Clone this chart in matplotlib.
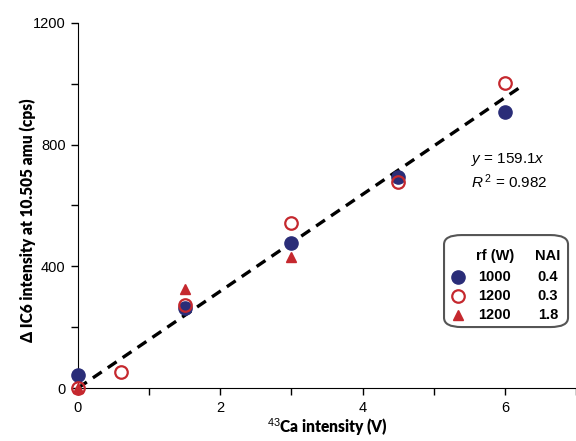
import matplotlib
matplotlib.use("Agg")
import matplotlib.pyplot as plt
from matplotlib.patches import FancyBboxPatch
from matplotlib.ticker import MultipleLocator

# rf = 1000 W, NAI 0.4
x_1000 = [0, 1.5, 3, 4.5, 6]
y_1000 = [43, 263, 477, 694, 908]
# rf = 1200 W, NAI 0.3
x_1200a = [0, 0.6, 1.5, 3, 4.5, 6]
y_1200a = [0, 52, 273, 542, 678, 1003]
# rf = 1200 W, NAI 1.8
x_1200b = [0, 1.5, 3]
y_1200b = [0, 327, 432]

slope = 159.1
r2 = 0.982
fit_x = [0, 6.2]

legend_rf = ["1000", "1200", "1200"]
legend_nai = ["0.4", "0.3", "1.8"]

navy = "#2a2d78"
red = "#c5282e"

plt.rcParams["font.family"] = ["Liberation Sans", "DejaVu Sans"]
plt.rcParams["mathtext.fontset"] = "custom"
plt.rcParams["mathtext.rm"] = "Liberation Sans"
plt.rcParams["mathtext.it"] = "Liberation Sans:italic"

fig = plt.figure(figsize=(5.76, 4.41), dpi=100)
ax = fig.add_axes([78 / 576, 1 - 388 / 441, 1 - 78 / 576, (388 - 23) / 441])

ax.plot(fit_x, [slope * v for v in fit_x], color="black", lw=2.4,
        dashes=(3.2, 2.2), zorder=2)
styles = [
    dict(marker="o", ms=9.5, color=navy, mec=navy),
    dict(marker="o", ms=9, mfc="none", mec=red, mew=1.6),
    dict(marker="^", ms=7.5, color=red, mec=red),
]
ax.plot(x_1000, y_1000, ls="none", clip_on=False, zorder=3, **styles[0])
ax.plot(x_1200b, y_1200b, ls="none", clip_on=False, zorder=4, **styles[2])
ax.plot(x_1200a, y_1200a, ls="none", clip_on=False, zorder=5, **styles[1])

ax.set_xlim(0, 7)
ax.set_ylim(0, 1200)
ax.spines["top"].set_visible(False)
ax.spines["right"].set_visible(False)
ax.xaxis.set_major_locator(MultipleLocator(2))
ax.xaxis.set_minor_locator(MultipleLocator(1))
ax.yaxis.set_major_locator(MultipleLocator(400))
ax.yaxis.set_minor_locator(MultipleLocator(200))
ax.tick_params(which="both", direction="out", length=5, width=1, labelsize=10.5, pad=4)

label_font = dict(family=["Lato", "DejaVu Sans"], weight="heavy", size=11.2)
ax.set_xlabel("$^{43}$Ca intensity (V)", labelpad=1, **label_font)
ax.set_ylabel("Δ IC6 intensity at 10.505 amu (cps)", **label_font)
ax.yaxis.set_label_coords(-0.085, 0.46)

ax.text(5.52, 714, f"$y$ = {slope}$x$\n$R^{{\\,2}}$ = {r2}", fontsize=11,
        va="center", linespacing=1.3)

# legend table drawn by hand: symbol, rf and NAI columns
ax.add_patch(FancyBboxPatch((0.735, 0.167), 0.249, 0.252, transform=ax.transAxes,
                            boxstyle="round,pad=0,rounding_size=0.035",
                            fc="white", ec="#555555", lw=1.5, zorder=6,
                            clip_on=False, mutation_aspect=365 / 498))
hdr = dict(transform=ax.transAxes, ha="center", va="center", weight="bold",
           zorder=7, fontsize=10.5)
ax.text(0.837, 0.362, "rf (W)", **hdr)
ax.text(0.944, 0.362, "NAI", **hdr)
row_y = [0.304, 0.252, 0.200]
for yy, st, rf, n in zip(row_y, styles, legend_rf, legend_nai):
    ax.plot([0.763], [yy], transform=ax.transAxes, ls="none", zorder=7,
            clip_on=False, **st)
    ax.text(0.837, yy, rf, **hdr)
    ax.text(0.944, yy, n, **hdr)

fig.savefig("out.png", dpi=100)
